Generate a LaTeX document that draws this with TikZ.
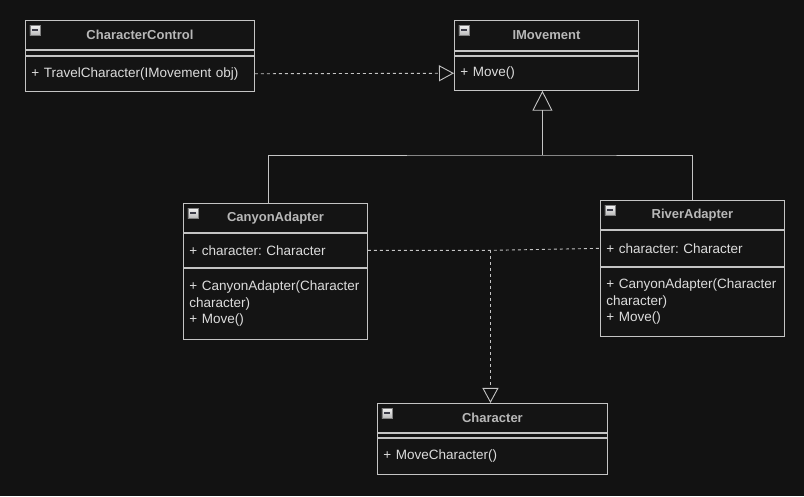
\documentclass[tikz,border=0pt]{standalone}
\usepackage{fontspec}
\setmainfont{Liberation Sans}
\usetikzlibrary{positioning, arrows.meta, calc}
\frenchspacing

\definecolor{bgc}{HTML}{121212}
\definecolor{boxc}{HTML}{141414}
\definecolor{linec}{HTML}{C4C4C4}
\definecolor{titlec}{HTML}{B8B8B8}
\definecolor{textc}{HTML}{DCDCDC}
\definecolor{iconc}{HTML}{3C3C48}

\begin{document}
\begin{tikzpicture}[
    x=1pt, y=1pt,
    classhead/.style={draw=linec, fill=boxc, text=titlec, line width=0.9pt,
        font=\fontsize{13}{15}\selectfont\bfseries, inner sep=0pt,
        anchor=north west, minimum height=29pt},
    compart/.style={draw=linec, fill=boxc, text=textc, line width=0.9pt,
        font=\fontsize{13.5}{16.5}\selectfont, inner xsep=6pt, inner ysep=0pt,
        align=left, below=0pt of #1},
    minusbox/.style={draw=gray, top color=white!90!gray, bottom color=gray!55,
        line width=0.5pt, minimum size=10pt, inner sep=0pt, anchor=north west,
        path picture={\draw[iconc, line width=1.6pt]
            ([xshift=2pt]path picture bounding box.west) --
            ([xshift=-2pt]path picture bounding box.east);}},
    conn/.style={draw=linec, line width=0.9pt},
    realize/.style={conn, dash pattern=on 3pt off 3pt,
        -{Triangle[open, length=15pt, width=16pt]}},
    inherit/.style={conn, -{Triangle[open, length=20pt, width=20pt]}}
]

\fill[bgc] (0,0) rectangle (804,496);

% --- CharacterControl ---
\node[classhead, minimum width=229pt] (cchead) at (25,476) {CharacterControl};
\node[compart=cchead, text width=217pt, minimum height=5pt] (ccattr) {};
\node[compart=ccattr, text width=217pt, minimum height=35pt] (ccops) {+ TravelCharacter(IMovement obj)};
\node[minusbox] at ([shift={(4.5pt,-5pt)}]cchead.north west) {};

% --- IMovement ---
\node[classhead, minimum width=184pt, minimum height=30pt] (imhead) at (454,476) {IMovement};
\node[compart=imhead, text width=172pt, minimum height=4pt] (imattr) {};
\node[compart=imattr, text width=172pt, minimum height=34pt] (imops) {+ Move()};
\node[minusbox] at ([shift={(4.5pt,-5pt)}]imhead.north west) {};

% --- CanyonAdapter ---
\node[classhead, minimum width=184pt] (cahead) at (183,293) {CanyonAdapter};
\node[compart=cahead, text width=172pt, minimum height=34pt] (caattr) {+ character: Character};
\node[compart=caattr, text width=172pt, minimum height=71pt] (caops)
    {+ CanyonAdapter(Character\\character)\\+ Move()};
\node[minusbox] at ([shift={(4.5pt,-5pt)}]cahead.north west) {};

% --- RiverAdapter ---
\node[classhead, minimum width=184pt] (rvhead) at (600,296) {RiverAdapter};
\node[compart=rvhead, text width=172pt, minimum height=36pt] (rvattr) {+ character: Character};
\node[compart=rvattr, text width=172pt, minimum height=69pt] (rvops)
    {+ CanyonAdapter(Character\\character)\\+ Move()};
\node[minusbox] at ([shift={(4.5pt,-5pt)}]rvhead.north west) {};

% --- Character ---
\node[classhead, minimum width=230pt] (charhead) at (377,93) {Character};
\node[compart=charhead, text width=218pt, minimum height=4pt] (charattr) {};
\node[compart=charattr, text width=218pt, minimum height=36pt] (charops) {+ MoveCharacter()};
\node[minusbox] at ([shift={(4.5pt,-5pt)}]charhead.north west) {};

% --- Arrows ---
\draw[realize] (ccops.east) -- (imops.west);

% Both adapters inherit IMovement
\coordinate (split) at ([xshift=-4pt]imops.south |- 0,341);
\draw[inherit] (split) -- (imops.south -| split);
\draw[conn] ([xshift=-7pt]cahead.north) |- (split) -| (rvhead.north);

% Adapters wrap Character
\coordinate (junc) at ([xshift=-2pt]charhead.north |- caattr.east);
\draw[conn, dash pattern=on 3pt off 3pt] (caattr.east) -- (junc) -- (rvattr.west);
\draw[realize] (junc) -- (charhead.north -| junc);

\end{tikzpicture}
\end{document}
